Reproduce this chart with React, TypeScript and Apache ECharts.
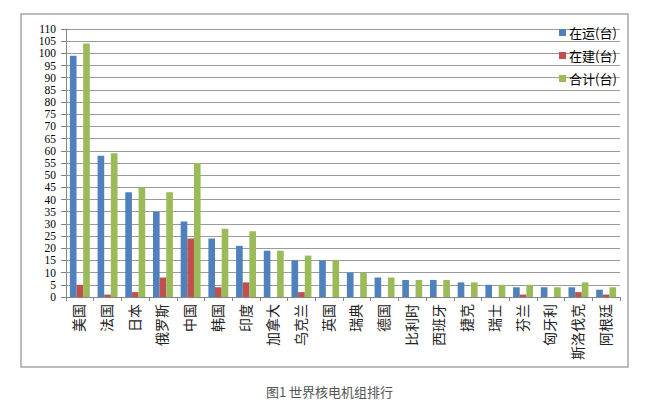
import { useEffect, useRef } from "react";
import * as echarts from "echarts";

const countries = [
  "美国", "法国", "日本", "俄罗斯", "中国", "韩国", "印度", "加拿大", "乌克兰", "英国",
  "瑞典", "德国", "比利时", "西班牙", "捷克", "瑞士", "芬兰", "匈牙利", "斯洛伐克", "阿根廷",
];
const operating = [99, 58, 43, 35, 31, 24, 21, 19, 15, 15, 10, 8, 7, 7, 6, 5, 4, 4, 4, 3];
const building = [5, 1, 2, 8, 24, 4, 6, 0, 2, 0, 0, 0, 0, 0, 0, 0, 1, 0, 2, 1];
const total = [104, 59, 45, 43, 55, 28, 27, 19, 17, 15, 10, 8, 7, 7, 6, 5, 5, 4, 6, 4];
const seriesNames = ["在运(台)", "在建(台)", "合计(台)"];
const caption = "图1 世界核电机组排行";

const COLORS = ["#4F81BD", "#C0504D", "#9BBB59"];
const SERIF = "'Liberation Serif', 'Times New Roman', 'Noto Sans CJK SC', serif";

export default function App() {
  const chartRef = useRef<HTMLDivElement>(null);

  useEffect(() => {
    if (!chartRef.current) return;
    const chart = echarts.init(chartRef.current, undefined, { renderer: "svg" });

    const values = [operating, building, total];

    const option: echarts.EChartsOption = {
      animation: false,
      backgroundColor: "#ffffff",
      color: COLORS,
      title: {
        text: caption,
        left: "center",
        top: 380,
        textStyle: {
          fontSize: 13,
          fontWeight: "normal",
          color: "#555555",
          fontFamily: "'Noto Sans CJK SC', sans-serif",
        },
      },
      graphic: [
        {
          type: "rect",
          shape: { x: 21, y: 14, width: 607, height: 353 },
          style: { fill: "none", stroke: "#a6a6a6", lineWidth: 1.5 },
          silent: true,
        },
      ],
      legend: {
        orient: "vertical",
        left: 554,
        top: 21,
        itemWidth: 7,
        itemHeight: 7,
        itemGap: 10,
        icon: "rect",
        data: seriesNames,
        textStyle: {
          fontSize: 13,
          color: "#000000",
          fontFamily: "'Noto Sans CJK SC', sans-serif",
          padding: [0, 0, 0, -2],
        },
      },
      grid: { left: 66, right: 39, top: 29, bottom: 105 },
      xAxis: {
        type: "category",
        data: countries,
        axisLine: { lineStyle: { color: "#868686", width: 1 } },
        axisTick: { show: true, length: 4, lineStyle: { color: "#868686" } },
        axisLabel: {
          rotate: 90,
          interval: 0,
          margin: 7,
          fontSize: 14,
          color: "#222222",
          fontFamily: SERIF,
        },
      },
      yAxis: {
        type: "value",
        min: 0,
        max: 110,
        interval: 5,
        axisLine: { show: true, lineStyle: { color: "#868686", width: 1 } },
        axisTick: { show: true, length: 5, lineStyle: { color: "#868686" } },
        axisLabel: {
          fontSize: 11.5,
          lineHeight: 11,
          color: "#000000",
          margin: 10,
          fontFamily: SERIF,
        },
        splitLine: { lineStyle: { color: "#9a9a9a", width: 1 } },
      },
      series: seriesNames.map((name, i) => ({
        name,
        type: "bar" as const,
        data: values[i],
        barGap: "0%",
        barCategoryGap: "28%",
        itemStyle: { color: COLORS[i] },
      })),
    };

    chart.setOption(option);
    return () => chart.dispose();
  }, []);

  return (
    <div
      ref={chartRef}
      style={{ position: "fixed", left: 0, top: 0, width: 659, height: 402 }}
    />
  );
}
